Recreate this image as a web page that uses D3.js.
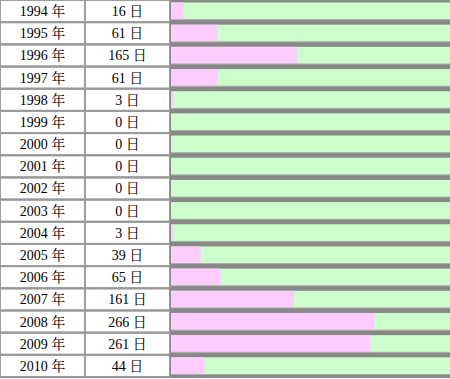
<!DOCTYPE html>
<html><head><meta charset="utf-8">
<script src="https://cdn.jsdelivr.net/npm/d3@7"></script>
<style>html,body{margin:0;padding:0;background:#fff;}svg{display:block;}</style>
</head><body>
<div id="chart"></div>
<script>
const years = [1994,1995,1996,1997,1998,1999,2000,2001,2002,2003,2004,2005,2006,2007,2008,2009,2010];
const days = [16,61,165,61,3,0,0,0,0,0,3,39,65,161,266,261,44];
const yearSuffix = "年";
const daySuffix = "日";
const totalDays = 365;

const W = 450, H = 379;
const svg = d3.select("#chart").append("svg").attr("width", W).attr("height", H);

const y = d3.scaleBand().domain(years).range([0, 377]).paddingInner(0).paddingOuter(0);
const x = d3.scaleLinear().domain([0, totalDays]).range([171, 450]);
const col1 = [0, 85], col2 = [85, 170];

// gray background for whole table
svg.append("rect").attr("x", 0).attr("y", 0).attr("width", W).attr("height", 378).attr("fill", "#888");

const rows = svg.selectAll("g.row").data(years.map((yr, i) => ({yr, d: days[i]})))
  .enter().append("g").attr("class", "row")
  .attr("transform", d => `translate(0,${y(d.yr)})`);
const bh = y.bandwidth();

// white cells (inset to show borders)
rows.append("rect").attr("x", col1[0] + 1).attr("y", 1).attr("width", col1[1] - col1[0] - 2).attr("height", bh - 2).attr("fill", "#fff");
rows.append("rect").attr("x", col2[0] + 1).attr("y", 1).attr("width", col2[1] - col2[0] - 2).attr("height", bh - 2).attr("fill", "#fff");
// light inner borders
rows.append("rect").attr("x", col1[0] + 0.5).attr("y", 0.5).attr("width", col1[1] - col1[0] - 1).attr("height", bh - 1)
  .attr("fill", "none").attr("stroke", "#9d9d9d").attr("stroke-width", 1);
rows.append("rect").attr("x", col2[0] + 0.5).attr("y", 0.5).attr("width", col2[1] - col2[0] - 1).attr("height", bh - 1)
  .attr("fill", "none").attr("stroke", "#9d9d9d").attr("stroke-width", 1);

// bar background (green, full year)
rows.append("rect").attr("x", x(0)).attr("y", 2.5).attr("width", x(totalDays) - x(0)).attr("height", bh - 5)
  .attr("fill", "#ccffcc");
// pink days
rows.append("rect").attr("x", x(0)).attr("y", 2.5).attr("width", d => x(d.d) - x(0)).attr("height", bh - 5)
  .attr("fill", "#ffccff");
// thin light edge under bar
rows.append("line").attr("x1", x(0)).attr("x2", x(totalDays)).attr("y1", bh - 2.5).attr("y2", bh - 2.5)
  .attr("stroke", "#aaa").attr("stroke-width", 1);

const font = "'Liberation Serif','Times New Roman','Noto Serif CJK JP','Noto Sans CJK JP',serif";
rows.append("text").attr("x", (col1[0] + col1[1]) / 2).attr("y", bh / 2 + 5)
  .attr("text-anchor", "middle").style("font-family", font).style("font-size", "14px").attr("fill", "#000")
  .text(d => d.yr + " " + yearSuffix);
rows.append("text").attr("x", (col2[0] + col2[1]) / 2).attr("y", bh / 2 + 5)
  .attr("text-anchor", "middle").style("font-family", font).style("font-size", "14px").attr("fill", "#000")
  .text(d => d.d + " " + daySuffix);
</script>
</body></html>
